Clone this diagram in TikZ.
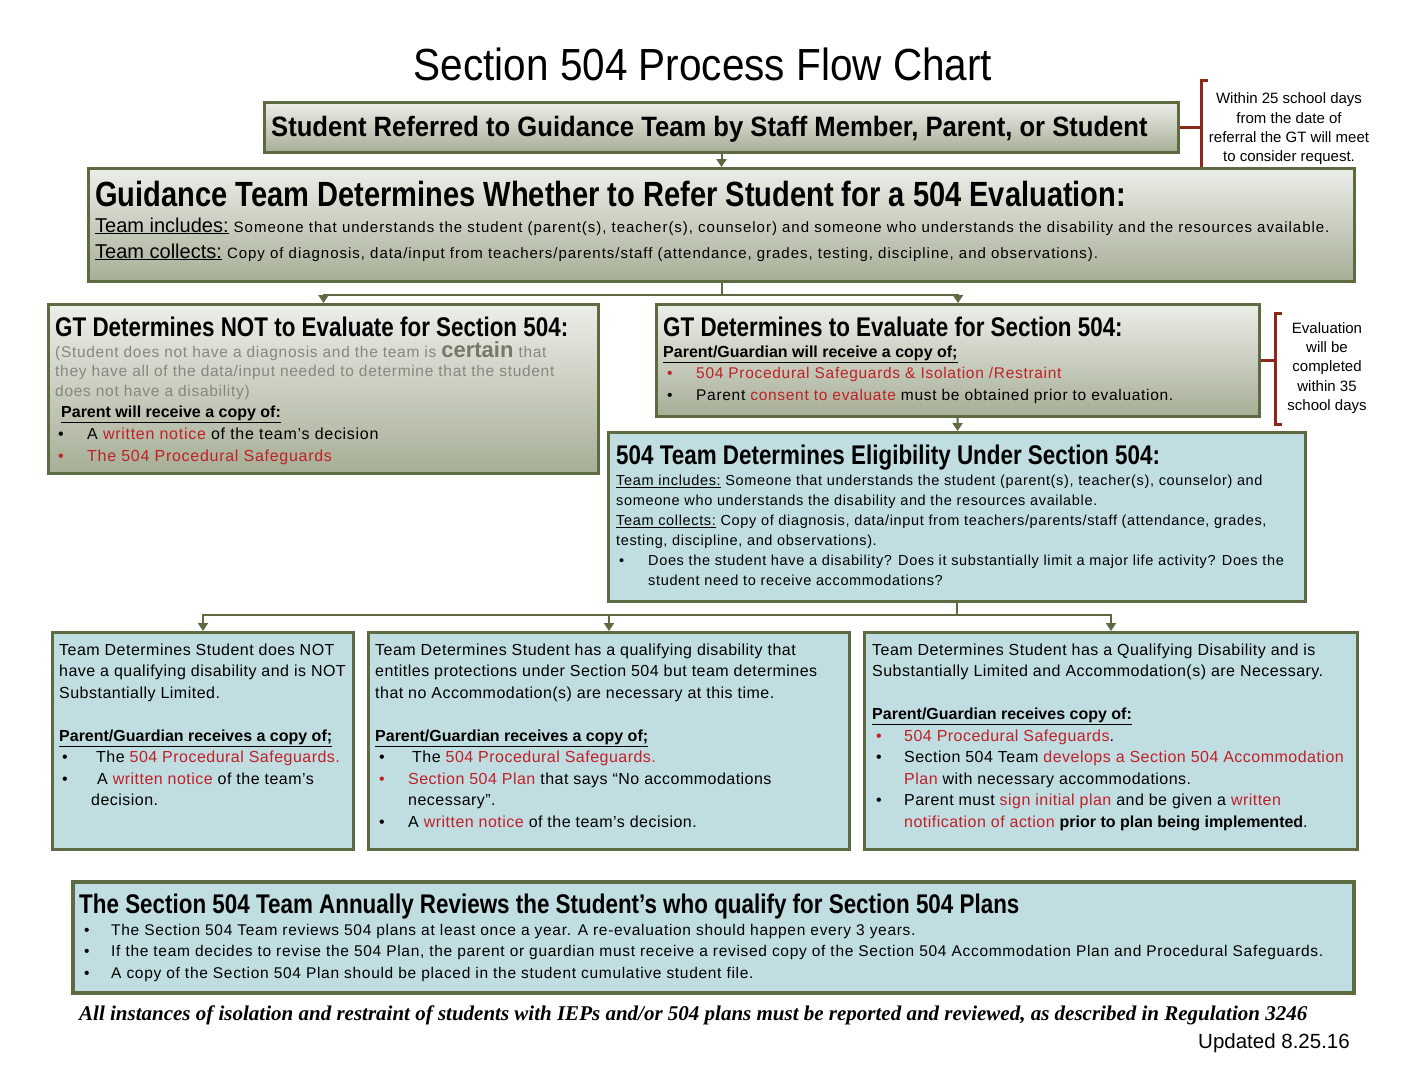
\documentclass[tikz,border=0pt]{standalone}
\usepackage{fontspec}
\setmainfont{Liberation Sans}[LetterSpace=4.5]
\newfontfamily\plainfont{Liberation Sans}
\newfontfamily\widefont[LetterSpace=6.5]{Liberation Sans}
\newfontfamily\boxfont[LetterSpace=3]{Liberation Sans}
\newfontfamily\titlefont[FakeStretch=0.9]{Liberation Sans}
\newfontfamily\midfont[FakeStretch=0.915]{Liberation Sans}
\newfontfamily\headfont[FakeStretch=0.83]{Liberation Sans}
\newfontfamily\sidefont{Liberation Sans}
\newfontfamily\notefont{Liberation Serif}
\newcommand\topgap{\rule{0pt}{15pt}}
\usetikzlibrary{arrows.meta, positioning}
\definecolor{BoxEdge}{RGB}{94,106,66}
\definecolor{GrayTop}{RGB}{236,238,232}
\definecolor{GrayBot}{RGB}{166,174,150}
\definecolor{PaleBlue}{RGB}{192,221,225}
\definecolor{AlertRed}{RGB}{192,32,40}
\definecolor{BracketRed}{RGB}{140,40,25}
\definecolor{FadeGray}{RGB}{135,135,125}
\definecolor{CertainGray}{RGB}{118,120,104}

\tikzset{
  box/.style={draw=BoxEdge, line width=3pt, inner sep=0pt, anchor=north west},
  graybox/.style={box, top color=GrayTop, bottom color=GrayBot},
  bluebox/.style={box, fill=PaleBlue},
  conn/.style={draw=BoxEdge, line width=2pt, -{Triangle[width=10pt,length=8pt]}},
  bracketline/.style={draw=BracketRed, line width=3pt},
  txt/.style={anchor=base west, inner sep=0pt},
  multi/.style={anchor=north west, inner sep=0pt, align=left},
  headtxt/.style={txt, font=\headfont\bfseries\fontsize{27}{30}\selectfont},
  subtxt/.style={txt, font=\plainfont\bfseries\fontsize{16}{20}\selectfont},
  notetxt/.style={inner sep=0pt, align=center, font=\sidefont\fontsize{15}{19.3}\selectfont}
}

\begin{document}
\begin{tikzpicture}[x=1pt, y=-1pt]
    \useasboundingbox (0,0) rectangle (1408,1088);

    % Title
    \node[anchor=base, inner sep=0pt] (title) at (703,80)
      {\titlefont\fontsize{45}{50}\selectfont Section 504 Process Flow Chart};

    % Referral
    \node[graybox, minimum width=914pt, minimum height=50pt] (refer) at (263,101) {};
    \node[txt, font=\midfont\bfseries\fontsize{28}{32}\selectfont] (referT) at (271,136)
      {Student Referred to Guidance Team by Staff Member, Parent, or Student};

    % 25 day note
    \coordinate (b1t) at (1201,80);
    \coordinate (b1b) at (1201,175);
    \draw[bracketline] ([xshift=7pt]b1t) -- (b1t) -- (b1b) -- ([xshift=7pt]b1b);
    \draw[bracketline] (refer.east) -- (refer.east -| b1t);
    \node[notetxt] (within25) at (1289,129)
      {Within 25 school days\\from the date of\\referral the GT will meet\\to consider request.};

    % Guidance team
    \node[graybox, minimum width=1266pt, minimum height=113pt] (guide) at (87,167) {};
    \node[headtxt, font=\headfont\bfseries\fontsize{35}{38}\selectfont] (guideH) at (95,206)
      {Guidance Team Determines Whether to Refer Student for a 504 Evaluation:};
    \node[txt, font=\widefont\fontsize{15}{18}\selectfont] (guideA) at (95,232)
      {{\plainfont\fontsize{20}{24}\selectfont\underline{Team includes:}} Someone that understands the student (parent(s), teacher(s), counselor) and  someone who understands the disability and the resources available.};
    \node[txt, font=\widefont\fontsize{15}{18}\selectfont] (guideB) at (95,258)
      {{\plainfont\fontsize{20}{24}\selectfont\underline{Team collects:}}  Copy of diagnosis, data/input from teachers/parents/staff (attendance, grades, testing, discipline, and observations).};

    \draw[conn] (refer) -- (guide);

    % Not to evaluate
    \node[graybox, minimum width=550pt, minimum height=169pt] (noeval) at (47,303) {};
    \node[headtxt] (noevalH) at (55,336) {GT Determines NOT to Evaluate for Section 504:};
    \node[multi, text=FadeGray, font=\fontsize{15.5}{19.5}\selectfont] (noevalT) at (55,342)
      {\topgap(Student does not have a diagnosis and the  team is \raisebox{0pt}[0pt][0pt]{\color{CertainGray}\plainfont\fontsize{22}{22}\selectfont\bfseries certain} that\\
       they have all of the data/input needed to determine that the student\\
       does not have a disability)};
    \node[subtxt] (noevalS) at (61,417) {\underline{Parent will receive a copy of:}};
    \node[multi, font=\fontsize{16}{22}\selectfont] (noevalL) at (58,424)
      {\topgap\makebox[29pt][l]{\textbullet}A  {\color{AlertRed}written notice} of the team’s decision\\
       \color{AlertRed}\makebox[29pt][l]{\textbullet}The 504 Procedural Safeguards};

    % To evaluate
    \node[graybox, minimum width=603pt, minimum height=112pt] (doeval) at (655,303) {};
    \node[headtxt] (doevalH) at (663,336) {GT Determines to Evaluate for Section 504:};
    \node[subtxt] (doevalS) at (663,357) {\underline{Parent/Guardian will receive a copy of;}};
    \node[multi, font=\fontsize{15.5}{22}\selectfont] (doevalL) at (667,363)
      {\topgap{\color{AlertRed}\makebox[29pt][l]{\textbullet}504 Procedural Safeguards \& Isolation /Restraint}\\
       \makebox[29pt][l]{\textbullet}Parent {\color{AlertRed}consent to evaluate} must be obtained prior to evaluation.};

    \draw[conn] (guide.south) -- ++(0,12) coordinate (fork1) -| (noeval.north);
    \draw[conn] (fork1) -| (doeval.north);

    % 35 day note
    \coordinate (b2t) at (1275,313);
    \coordinate (b2b) at (1275,424);
    \draw[bracketline] ([xshift=7pt]b2t) -- (b2t) -- (b2b) -- ([xshift=7pt]b2b);
    \draw[bracketline] (doeval.east) -- (doeval.east -| b2t);
    \node[notetxt] (within35) at (1327,368)
      {Evaluation\\will be\\completed\\within 35\\school days};

    % Eligibility
    \node[bluebox, minimum width=697pt, minimum height=169pt] (elig) at (607,431) {};
    \node[headtxt] (eligH) at (616,464) {504 Team Determines Eligibility Under Section 504:};
    \node[multi, font=\fontsize{14.5}{20}\selectfont] (eligT) at (616,470)
      {\topgap\underline{Team includes:} Someone that understands the student (parent(s), teacher(s), counselor) and\\
       someone who understands the disability and the resources available.\\
       \underline{Team collects:}  Copy of diagnosis, data/input from teachers/parents/staff (attendance, grades,\\
       testing, discipline, and observations).\\
       \hspace*{3pt}\makebox[29pt][l]{\textbullet}Does the student have a disability?  Does it substantially limit a major life activity?  Does the\\
       \hspace*{32pt}student need to receive accommodations?};

    \draw[conn] (doeval) -- (elig);

    % Not qualifying
    \node[bluebox, minimum width=301pt, minimum height=217pt] (notq) at (51,631) {};
    \node[multi, font=\boxfont\fontsize{16}{21.5}\selectfont] (notqT) at (59,640)
      {\topgap Team Determines Student does NOT\\
       have a qualifying disability and is NOT\\
       Substantially Limited.\\[21.5pt]
       {\plainfont\bfseries\underline{Parent/Guardian receives a copy  of;}}\\
       \hspace*{3pt}\makebox[34pt][l]{\textbullet}The {\color{AlertRed}504 Procedural Safeguards.}\\
       \hspace*{3pt}\makebox[35pt][l]{\textbullet}A  {\color{AlertRed}written notice} of the team’s\\
       \hspace*{32pt}decision.};

    % Qualifying, no accommodations
    \node[bluebox, minimum width=481pt, minimum height=217pt] (noacc) at (367,631) {};
    \node[multi, font=\boxfont\fontsize{16}{21.5}\selectfont] (noaccT) at (375,640)
      {\topgap Team Determines Student has a qualifying disability that\\
       entitles protections under Section 504 but team determines\\
       that no Accommodation(s) are  necessary at this time.\\[21.5pt]
       {\plainfont\bfseries\underline{Parent/Guardian receives a copy  of;}}\\
       \hspace*{4pt}\makebox[33pt][l]{\textbullet}The {\color{AlertRed}504 Procedural Safeguards.}\\
       \hspace*{4pt}\makebox[29pt][l]{\color{AlertRed}\textbullet}{\color{AlertRed}Section 504 Plan} that says “No accommodations\\
       \hspace*{33pt}necessary”.\\
       \hspace*{4pt}\makebox[29pt][l]{\textbullet}A {\color{AlertRed}written notice} of the team’s decision.};

    % Qualifying with accommodations
    \node[bluebox, minimum width=493pt, minimum height=217pt] (acc) at (863,631) {};
    \node[multi, font=\boxfont\fontsize{16}{21.5}\selectfont] (accT) at (872,640)
      {\topgap Team Determines Student has a Qualifying Disability and is\\
       Substantially Limited and Accommodation(s) are Necessary.\\[21.5pt]
       {\plainfont\bfseries\underline{Parent/Guardian receives  copy of:}}\\
       \color{AlertRed}\hspace*{4pt}\makebox[28pt][l]{\textbullet}504 Procedural Safeguards\color{black}.\\
       \hspace*{4pt}\makebox[28pt][l]{\textbullet}Section 504 Team {\color{AlertRed}develops a Section 504 Accommodation}\\
       \hspace*{32pt}{\color{AlertRed}Plan} with  necessary accommodations.\\
       \hspace*{4pt}\makebox[28pt][l]{\textbullet}Parent must {\color{AlertRed}sign initial plan} and be given a {\color{AlertRed}written}\\
       \hspace*{32pt}{\color{AlertRed}notification of action} {\plainfont\bfseries prior to plan being implemented}.};

    \draw[conn] (elig.south) -- ++(0,12) coordinate (fork2) -| (notq.north);
    \draw[conn] (fork2) -| (noacc.north);
    \draw[conn] (fork2) -| (acc.north);

    % Annual review
    \node[bluebox, line width=4pt, minimum width=1281pt, minimum height=111pt] (review) at (71,880) {};
    \node[headtxt] (reviewH) at (79,913)
      {The Section 504 Team Annually Reviews the Student’s who qualify for Section 504 Plans};
    \node[multi, font=\fontsize{15.5}{21.5}\selectfont] (reviewL) at (84,920)
      {\topgap\makebox[27pt][l]{\textbullet}The Section 504 Team reviews 504 plans at least once a year.  A re-evaluation should happen every 3 years.\\
       \makebox[27pt][l]{\textbullet}If the team decides to revise the 504 Plan, the parent or guardian must receive a revised copy of the Section 504 Accommodation Plan and Procedural Safeguards.\\
       \makebox[27pt][l]{\textbullet}A copy of the Section 504 Plan should be placed in the student cumulative student file.};

    % Footer
    \node[txt, font=\notefont\bfseries\itshape\fontsize{21}{23}\selectfont] (footnote) at (79,1020)
      {All instances of isolation and restraint of students with IEPs and/or 504 plans must be reported and reviewed, as described in Regulation 3246};
    \node[anchor=base east, inner sep=0pt, font=\plainfont\fontsize{20.5}{24}\selectfont] (updated) at (1350,1048)
      {Updated 8.25.16};
\end{tikzpicture}
\end{document}
